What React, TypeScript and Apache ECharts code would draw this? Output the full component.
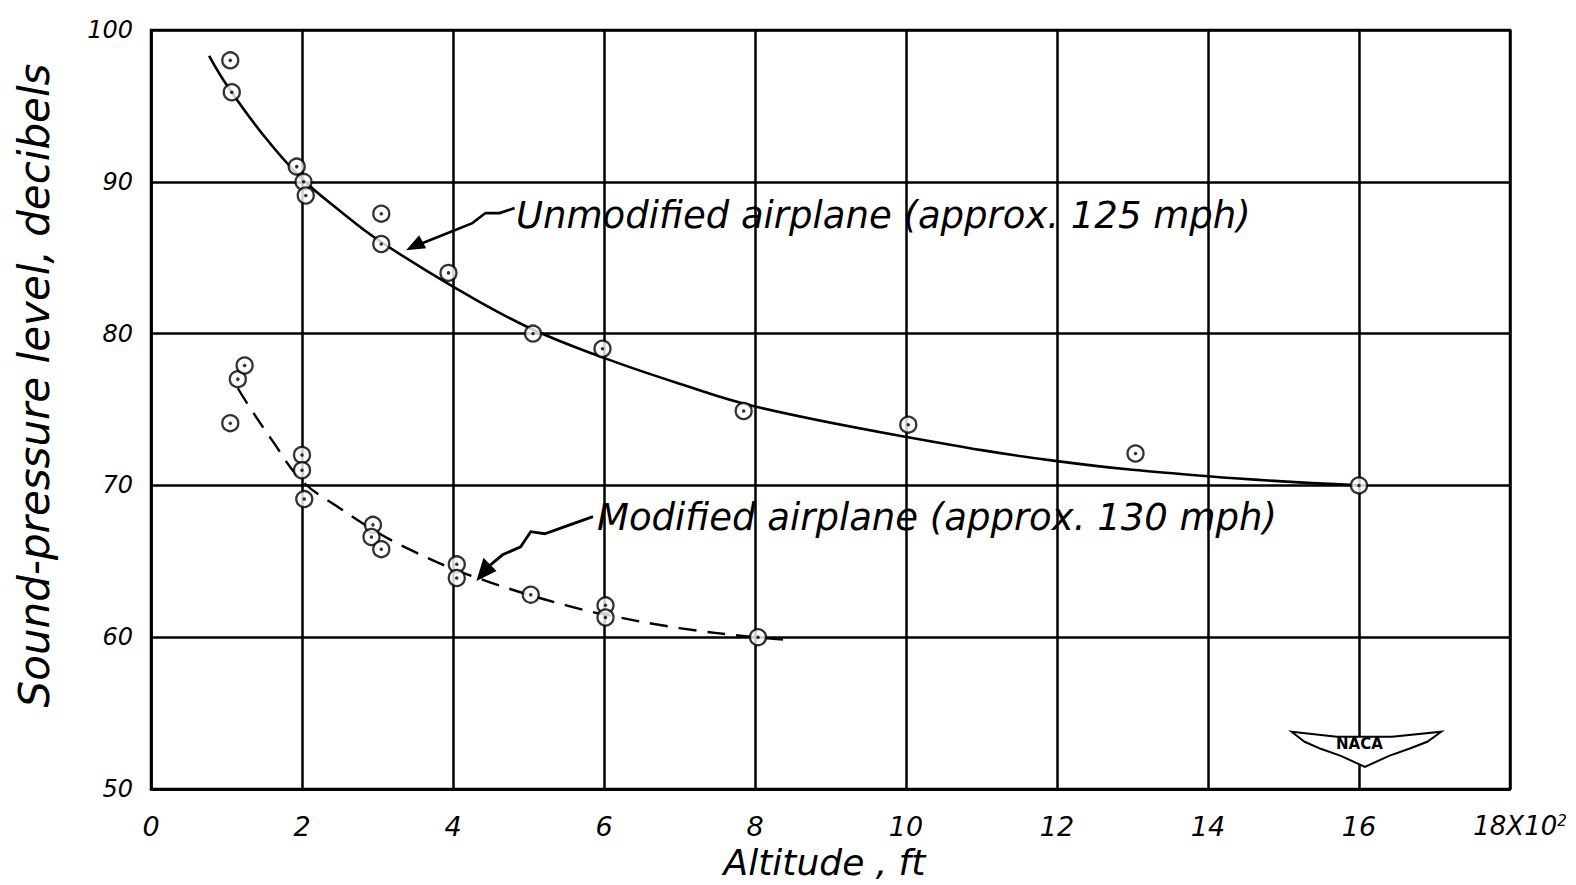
import React, { useEffect, useRef } from "react";
import * as echarts from "echarts";

// Unmodified airplane (approx. 125 mph) — measured points [altitude x10^2 ft, dB]
const unmodifiedPoints: [number, number][] = [
  [1.05, 98.0], [1.07, 95.9], [1.93, 91.0], [2.02, 90.0], [2.05, 89.1],
  [3.05, 87.9], [3.05, 85.9], [3.94, 84.0], [5.06, 80.0], [5.98, 79.0],
  [7.85, 74.9], [10.03, 74.0], [13.04, 72.1], [16.0, 70.0],
];
// Modified airplane (approx. 130 mph) — measured points
const modifiedPoints: [number, number][] = [
  [1.05, 74.1], [1.15, 77.0], [1.24, 77.9], [2.0, 72.0], [2.0, 71.0],
  [2.03, 69.1], [2.94, 67.4], [2.92, 66.6], [3.05, 65.8], [4.05, 64.8],
  [4.05, 63.9], [5.03, 62.8], [6.02, 62.1], [6.02, 61.3], [8.04, 60.0],
];
// Faired curves
const unmodCurveX = [0.77, 1.0, 1.5, 2.0, 2.5, 3.0, 4.0, 5.0, 6.0, 7.0, 8.0, 10, 12, 14, 16];
const unmodCurveY = [98.3, 96.4, 93.0, 90.2, 88.1, 86.2, 83.1, 80.4, 78.4, 76.7, 75.2, 73.2, 71.6, 70.6, 70.0];
const modCurveX = [1.15, 1.3, 1.6, 2.0, 2.5, 3.0, 3.5, 4.0, 4.5, 5.0, 5.5, 6.0, 7.0, 8.0, 8.5];
const modCurveY = [76.4, 75.2, 73.0, 70.3, 68.5, 66.9, 65.6, 64.5, 63.6, 62.8, 62.1, 61.5, 60.6, 60.0, 59.8];

const xTicks = [0, 2, 4, 6, 8, 10, 12, 14, 16, 18];
const yTicks = [50, 60, 70, 80, 90, 100];

const FONT = "'DejaVu Sans', sans-serif";
const K = 1576 / 1568;
const P = (pts: number[][]) => pts.map(([x, y]) => [x * K, y * K]);

export default function App() {
  const ref = useRef<HTMLDivElement>(null);
  useEffect(() => {
    if (!ref.current) return;
    const chart = echarts.init(ref.current, null, { renderer: "svg" });
    const pairs = (xs: number[], ys: number[]) => xs.map((x, i) => [x, ys[i]]);
    const ring = {
      symbol: "circle",
      symbolSize: 16,
      itemStyle: { color: "#fff", borderColor: "#000", borderWidth: 2.3 },
    };
    const dot = { symbol: "circle", symbolSize: 3.5, itemStyle: { color: "#000" } };
    chart.setOption({
      animation: false,
      backgroundColor: "#fff",
      grid: {
        left: 151, right: 66, top: 30, bottom: 96,
        containLabel: false,
        outerBoundsMode: "none",
        show: true, borderColor: "#000", borderWidth: 2.5, backgroundColor: "transparent",
      },
      xAxis: {
        type: "value", min: xTicks[0], max: xTicks[xTicks.length - 1], interval: 2,
        axisLine: { show: true, lineStyle: { color: "#000", width: 2.5 } },
        axisTick: { show: false },
        splitLine: { show: true, lineStyle: { color: "#000", width: 2.5 } },
        axisLabel: {
          margin: 24, color: "#000", fontFamily: FONT, fontStyle: "italic", fontSize: 27,
          showMinLabel: true, showMaxLabel: true,
          formatter: (v: number) => (v === 18 ? "{n|18}{x|X10}{p|2}" : String(v)),
          rich: {
            n: { fontFamily: FONT, fontStyle: "italic", fontSize: 26, color: "#000", padding: [0, 0, 0, 20] },
            x: { fontFamily: FONT, fontStyle: "italic", fontSize: 26, color: "#000" },
            p: { fontFamily: FONT, fontStyle: "italic", fontSize: 15, color: "#000", verticalAlign: "top" },
          },
        },
        name: "Altitude , ft",
        nameLocation: "middle",
        nameGap: 50,
        nameTextStyle: { color: "#000", fontFamily: FONT, fontStyle: "italic", fontSize: 36, padding: [0, 12, 0, 0] },
      },
      yAxis: {
        type: "value", min: yTicks[0], max: yTicks[yTicks.length - 1], interval: 10,
        axisLine: { show: true, lineStyle: { color: "#000", width: 2.5 } },
        axisTick: { show: false },
        splitLine: { show: true, lineStyle: { color: "#000", width: 2.5 } },
        axisLabel: {
          margin: 18, color: "#000", fontFamily: FONT, fontStyle: "italic", fontSize: 24,
          showMinLabel: true, showMaxLabel: true,
        },
        name: "Sound-pressure level, decibels",
        nameLocation: "middle",
        nameGap: 96,
        nameTextStyle: {
          color: "#000", fontFamily: FONT, fontStyle: "italic", fontSize: 42,
          padding: [0, 0, 0, 48],
        },
      },
      series: [
        {
          name: "Unmodified curve", type: "line", data: pairs(unmodCurveX, unmodCurveY),
          smooth: 0.4, showSymbol: false, symbol: "none",
          lineStyle: { color: "#000", width: 2.6 }, z: 3,
        },
        {
          name: "Modified curve", type: "line", data: pairs(modCurveX, modCurveY),
          smooth: 0.4, showSymbol: false, symbol: "none",
          lineStyle: { color: "#000", width: 2.4, type: [18, 11] }, z: 3,
        },
        { name: "Unmodified airplane", type: "scatter", data: unmodifiedPoints, ...ring, z: 5 },
        { name: "Unmodified airplane dot", type: "scatter", data: unmodifiedPoints, ...dot, z: 6 },
        { name: "Modified airplane", type: "scatter", data: modifiedPoints, ...ring, z: 5 },
        { name: "Modified airplane dot", type: "scatter", data: modifiedPoints, ...dot, z: 6 },
      ],
      graphic: [
        {
          type: "text", left: 516, top: 197, z: 10,
          style: {
            text: "Unmodified airplane (approx. 125 mph)", fill: "#000",
            font: `italic 37px ${FONT}`,
          },
        },
        {
          type: "text", left: 597, top: 499, z: 10,
          style: {
            text: "Modified airplane (approx. 130 mph)", fill: "#000",
            font: `italic 37px ${FONT}`,
          },
        },
        {
          type: "polyline", z: 10,
          shape: { points: P([[512, 207], [497, 212], [483, 212], [470, 222], [445, 232], [420, 242]]) },
          style: { stroke: "#000", lineWidth: 2.6, fill: "none" },
        },
        {
          type: "polygon", z: 10,
          shape: { points: P([[404, 249], [424, 247], [417, 234]]) },
          style: { fill: "#000" },
        },
        {
          type: "polyline", z: 10,
          shape: { points: P([[590, 514], [562, 524], [542, 531], [528, 529], [518, 544], [500, 552], [488, 562]]) },
          style: { stroke: "#000", lineWidth: 2.8, fill: "none" },
        },
        {
          type: "polygon", z: 10,
          shape: { points: P([[474, 578], [494, 568], [481, 555]]) },
          style: { fill: "#000" },
        },
        {
          type: "polygon", z: 10,
          shape: {
            points: P([
              [1285, 728], [1330, 733], [1385, 733], [1434, 728], [1420, 738], [1402, 745],
              [1382, 752], [1358, 763], [1334, 752], [1314, 745], [1298, 738],
            ]),
          },
          style: { fill: "#fff", stroke: "#000", lineWidth: 2 },
        },
        {
          type: "text", z: 11, left: 1336, top: 736,
          style: { text: "NACA", fill: "#000", font: `bold 15px ${FONT}` },
        },
      ],
    });
    return () => chart.dispose();
  }, []);
  return (
    <div
      ref={ref}
      style={{ position: "fixed", left: 0, top: 0, width: 1576, height: 885, background: "#fff" }}
    />
  );
}
